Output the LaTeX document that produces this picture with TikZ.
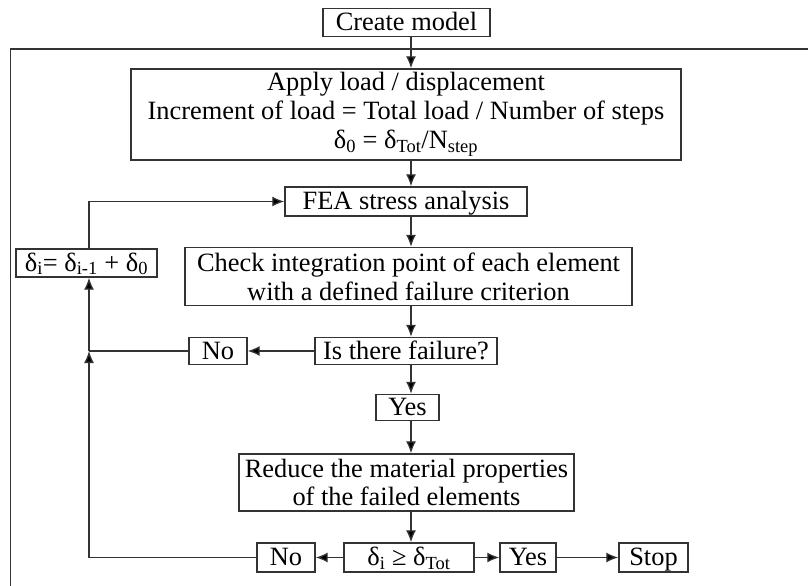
\documentclass[tikz,border=0pt]{standalone}
\usepackage{fontspec}
\setmainfont{Liberation Serif}
\usetikzlibrary{arrows.meta}
\definecolor{edge}{HTML}{333333}
\tikzset{
  box/.style={draw=edge, line width=1.4bp, inner sep=0pt, align=center,
    minimum height=28bp, font=\fontsize{26.5}{29}\selectfont},
  oneline/.style={text height=19bp, text depth=3bp},
  wire/.style={draw=edge, line width=1.3bp},
  arr/.style={-{Latex[length=12bp,width=10bp,fill=black]}},
}

\begin{document}
\begin{tikzpicture}[x=1bp, y=-1bp]
			%%%%% START %%%%%
			\useasboundingbox (0,0) rectangle (808,586);
			
			\draw[wire, line width=1.5bp] (10.7,586) -- (10.7,49) -- (808,49);
			
			\node[box, oneline, minimum width=167bp] (create) at (406.5,22.5) {Create model};
			\node[box, minimum width=550bp, minimum height=91bp] (apply) at (406,114.5)
			  {Apply load / displacement\\Increment of load = Total load / Number of steps\\δ\textsubscript{0} = δ\textsubscript{Tot}/N\textsubscript{step}};
			\node[box, oneline, minimum width=242bp, minimum height=29bp] (fea) at (406,201.5) {FEA stress analysis};
			\node[box, oneline, minimum width=141bp] (update) at (86.5,263) {δ\textsubscript{i}= δ\textsubscript{i-1} + δ\textsubscript{0}};
			\node[box, minimum width=447bp, minimum height=58bp] (check) at (408.5,276.5)
			  {Check integration point of each element\\with a defined failure criterion};
			\node[box, oneline, minimum width=182bp, minimum height=27bp] (fail) at (406,351) {Is there failure?};
			\node[box, oneline, minimum width=58bp, minimum height=27bp] (noA) at (218,351) {No};
			\node[box, oneline, minimum width=63bp, minimum height=26bp] (yesA) at (407.5,407.5) {Yes};
			\node[box, minimum width=335bp, minimum height=57bp] (reduce) at (406.5,482.5)
			  {Reduce the material properties\\of the failed elements};
			\node[box, oneline, minimum width=130bp, minimum height=29bp] (cmp) at (409,557.5) {δ\textsubscript{i} ≥ δ\textsubscript{Tot}};
			\node[box, oneline, minimum width=58bp, minimum height=29bp] (noB) at (286,557.5) {No};
			\node[box, oneline, minimum width=56bp, minimum height=29bp] (yesB) at (528,557.5) {Yes};
			\node[box, oneline, minimum width=69bp, minimum height=29bp] (stop) at (653.5,557.5) {Stop};
			
			\coordinate (spine) at (411,0);
			\coordinate (loopx) at (89,0);
			
			% main column
			\draw[wire, arr] (create.south -| spine) -- (apply.north -| spine);
			\draw[wire, arr] (apply.south -| spine) -- (fea.north -| spine);
			\draw[wire, arr] (fea.south -| spine) -- (check.north -| spine);
			\draw[wire, arr] (check.south -| spine) -- (fail.north -| spine);
			\draw[wire, arr] (fail.south -| spine) -- (yesA.north -| spine);
			\draw[wire, arr] (yesA.south -| spine) -- (reduce.north -| spine);
			\draw[wire, arr] (reduce.south -| spine) -- (cmp.north -| spine);
			
			% branches
			\draw[wire, arr] (fail.west) -- (noA.east);
			\draw[wire, arr] (cmp.west) -- (noB.east);
			\draw[wire, arr] (cmp.east) -- (yesB.west);
			\draw[wire, arr] (yesB.east) -- (stop.west);
			
			% loop back
			\draw[wire, arr] (noB.west) -| (noA.west -| loopx);
			\draw[wire] (noA.west) -- (noA.west -| loopx);
			\draw[wire, arr] (noA.west -| loopx) -- (update.south -| loopx);
			\draw[wire, arr] (update.north -| loopx) |- (fea.west);
			
			%%%%% END %%%%%
\end{tikzpicture}
\end{document}
